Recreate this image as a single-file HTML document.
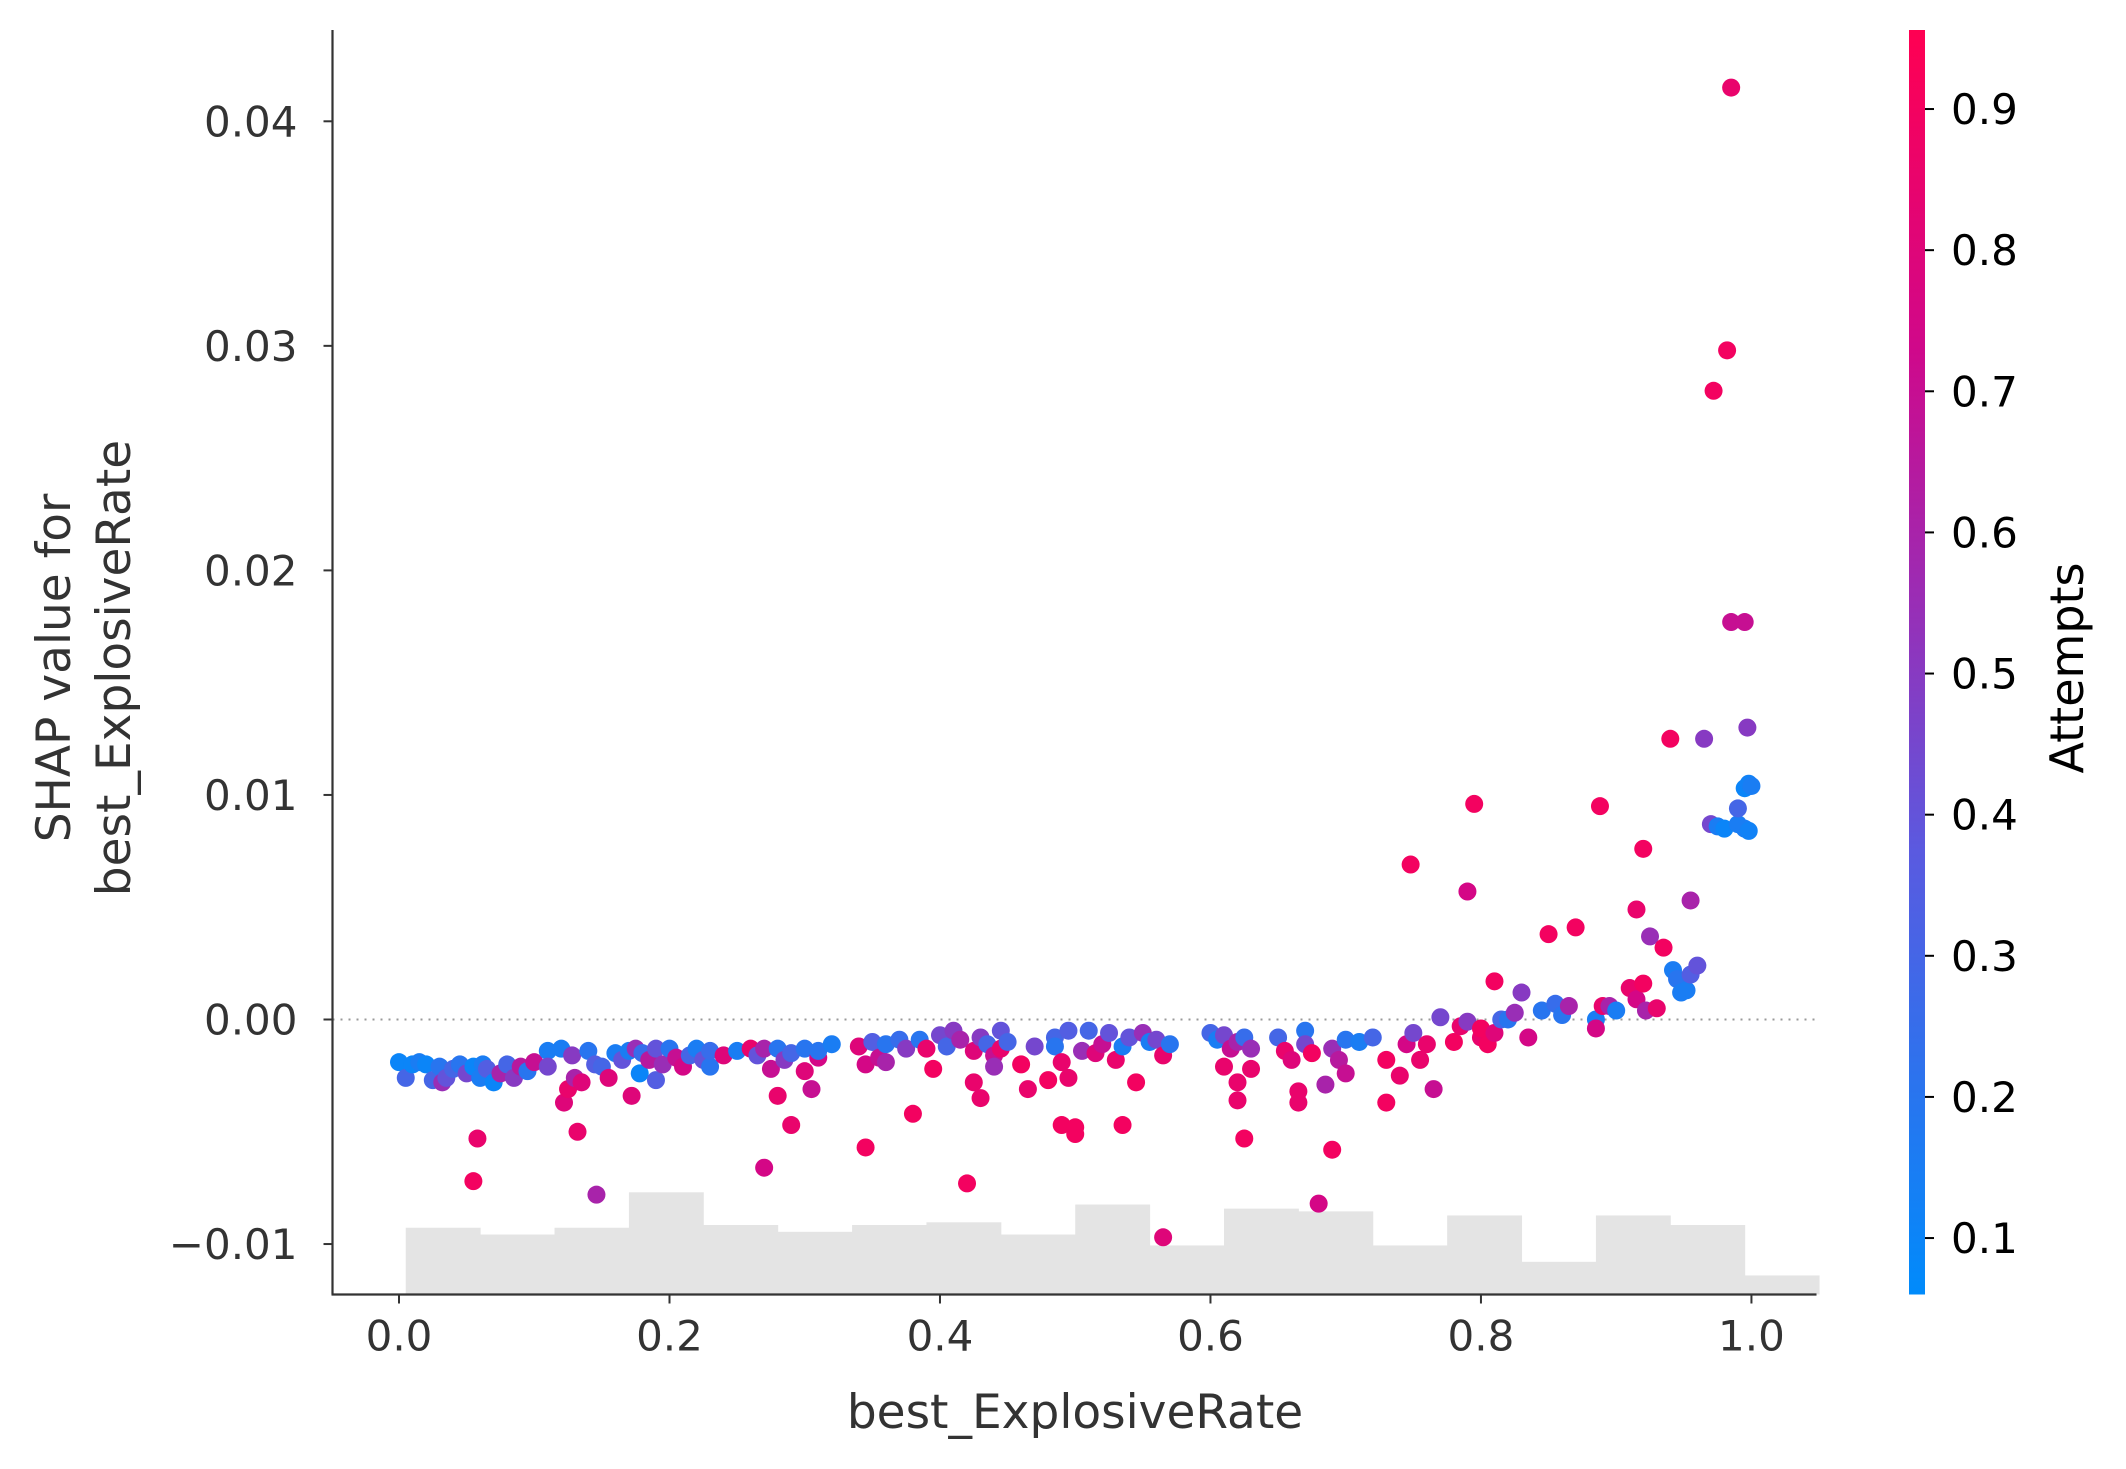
<!DOCTYPE html>
<html><head><meta charset="utf-8"><style>
html,body{margin:0;padding:0;background:#fff;}
svg{display:block;font-family:"DejaVu Sans","Liberation Sans",sans-serif;}
</style></head><body>
<svg id="chart" width="2126" height="1469" viewBox="0 0 2126 1469" xmlns="http://www.w3.org/2000/svg">
<defs>
<linearGradient id="cbgrad" x1="0" y1="1" x2="0" y2="0">
<stop offset="0" stop-color="#008bfb"/>
<stop offset="0.35" stop-color="#5a5ae0"/>
<stop offset="0.55" stop-color="#9a2db5"/>
<stop offset="0.75" stop-color="#d0088a"/>
<stop offset="1" stop-color="#ff0052"/>
</linearGradient>
</defs>
<g id="hist"></g>
<line id="zeroline" stroke="#999" stroke-width="2" stroke-dasharray="2,6"/>
<g id="pts"></g>
<g id="axes"></g>
<rect x="1909" y="30" width="16" height="1264.5" fill="url(#cbgrad)"/>
<g id="cbticks"></g>
<text x="0" y="0" transform="translate(2083,668) rotate(-90)" text-anchor="middle" font-size="46" fill="#000">Attempts</text>
<text x="1075" y="1428" text-anchor="middle" font-size="47" fill="#333">best_ExplosiveRate</text>
<text transform="translate(70,668) rotate(-90)" text-anchor="middle" font-size="47" fill="#333"><tspan x="0" y="0">SHAP value for</tspan><tspan x="0" y="60">best_ExplosiveRate</tspan></text>
</svg>
<script>
const xTicks=[0,0.2,0.4,0.6,0.8,1.0];
const xTickLabels=["0.0","0.2","0.4","0.6","0.8","1.0"];
const yTicks=[-0.01,0,0.01,0.02,0.03,0.04];
const yTickLabels=["\u22120.01","0.00","0.01","0.02","0.03","0.04"];
const cbTicks=[0.1,0.2,0.3,0.4,0.5,0.6,0.7,0.8,0.9];
const cbTickLabels=["0.1","0.2","0.3","0.4","0.5","0.6","0.7","0.8","0.9"];
const histStart=0.005;
const histBinWidth=0.055;
const histCounts=[49,44,49,75,51,46,51,53,44,66,36,63,61,36,58,24,58,51,14];
const featureX=[0.00,0.005,0.01,0.015,0.02,0.025,0.03,0.032,0.035,0.04,0.045,0.05,0.055,0.06,0.062,0.065,0.07,0.075,0.08,0.085,0.09,0.095,0.10,0.055,0.058,
0.11,0.11,0.12,0.122,0.125,0.128,0.13,0.132,0.135,0.14,0.145,0.146,0.15,0.155,0.16,0.165,0.17,0.172,0.175,0.178,0.18,0.185,0.19,0.19,0.195,0.20,0.205,0.21,
0.215,0.22,0.225,0.23,0.23,0.24,0.25,0.26,0.265,0.27,0.27,0.275,0.28,0.28,0.285,0.29,0.29,0.30,0.30,0.305,0.31,0.31,0.32,
0.34,0.345,0.345,0.35,0.355,0.36,0.36,0.37,0.375,0.38,0.385,0.39,0.395,0.40,0.405,0.41,0.415,0.42,0.425,0.425,0.43,0.43,0.435,0.44,0.445,0.445,0.45,0.44,
0.46,0.465,0.47,0.48,0.485,0.485,0.49,0.49,0.495,0.495,0.50,0.50,0.505,0.51,0.515,0.52,0.525,0.53,0.535,0.535,0.54,0.545,0.55,0.555,0.56,0.565,0.565,0.57,
0.60,0.605,0.61,0.61,0.615,0.62,0.62,0.62,0.625,0.625,0.63,0.63,0.65,0.655,0.66,0.665,0.665,0.67,0.67,0.675,0.68,0.685,0.69,0.695,0.69,0.70,0.70,0.71,0.72,
0.73,0.73,0.74,0.745,0.748,0.75,0.755,0.76,0.765,0.77,0.78,0.785,0.79,0.79,0.795,0.80,0.80,0.805,0.81,0.81,0.815,0.82,0.825,0.83,0.835,
0.845,0.85,0.855,0.86,0.865,0.87,0.885,0.885,0.888,0.89,0.895,0.90,0.91,0.915,0.915,0.92,0.92,0.922,0.925,0.93,0.935,0.94,0.942,0.945,0.948,0.952,0.955,0.955,0.96,0.965,0.97,0.972,0.975,0.98,0.982,0.985,0.985,0.99,0.99,0.995,0.995,0.995,0.997,0.998,1.0,0.998];
const shapValues=[-0.0019,-0.0026,-0.0020,-0.0019,-0.0020,-0.0027,-0.0021,-0.0028,-0.0026,-0.0022,-0.0020,-0.0024,-0.0021,-0.0026,-0.0020,-0.0022,-0.0028,-0.0024,-0.0020,-0.0026,-0.0021,-0.0023,-0.0019,-0.0072,-0.0053,
-0.0014,-0.0021,-0.0013,-0.0037,-0.0031,-0.0016,-0.0026,-0.0050,-0.0028,-0.0014,-0.0020,-0.0078,-0.0021,-0.0026,-0.0015,-0.0018,-0.0014,-0.0034,-0.0013,-0.0024,-0.0015,-0.0018,-0.0013,-0.0027,-0.0020,-0.0013,-0.0017,-0.0021,
-0.0016,-0.0013,-0.0018,-0.0021,-0.0014,-0.0016,-0.0014,-0.0013,-0.0016,-0.0013,-0.0066,-0.0022,-0.0013,-0.0034,-0.0018,-0.0047,-0.0015,-0.0013,-0.0023,-0.0031,-0.0017,-0.0014,-0.0011,
-0.0012,-0.0020,-0.0057,-0.0010,-0.0017,-0.0011,-0.0019,-0.0009,-0.0013,-0.0042,-0.0009,-0.0013,-0.0022,-0.0007,-0.0012,-0.0005,-0.0009,-0.0073,-0.0014,-0.0028,-0.0035,-0.0008,-0.0011,-0.0016,-0.0005,-0.0013,-0.0010,-0.0021,
-0.0020,-0.0031,-0.0012,-0.0027,-0.0008,-0.0012,-0.0047,-0.0019,-0.0005,-0.0026,-0.0048,-0.0051,-0.0014,-0.0005,-0.0015,-0.0011,-0.0006,-0.0018,-0.0047,-0.0012,-0.0008,-0.0028,-0.0006,-0.0010,-0.0009,-0.0016,-0.0097,-0.0011,
-0.0006,-0.0009,-0.0021,-0.0007,-0.0013,-0.0010,-0.0036,-0.0028,-0.0053,-0.0008,-0.0022,-0.0013,-0.0008,-0.0014,-0.0018,-0.0037,-0.0032,-0.0005,-0.0011,-0.0015,-0.0082,-0.0029,-0.0013,-0.0018,-0.0058,-0.0009,-0.0024,-0.0010,-0.0008,
-0.0018,-0.0037,-0.0025,-0.0011,0.0069,-0.0006,-0.0018,-0.0011,-0.0031,0.0001,-0.0010,-0.0003,0.0057,-0.0001,0.0096,-0.0008,-0.0004,-0.0011,0.0017,-0.0006,0.0000,0.0000,0.0003,0.0012,-0.0008,
0.0004,0.0038,0.0007,0.0002,0.0006,0.0041,0.0000,-0.0004,0.0095,0.0006,0.0006,0.0004,0.0014,0.0009,0.0049,0.0016,0.0076,0.0004,0.0037,0.0005,0.0032,0.0125,0.0022,0.0018,0.0012,0.0013,0.0053,0.0020,0.0024,0.0125,0.0087,0.0280,0.0086,0.0085,0.0298,0.0415,0.0177,0.0087,0.0094,0.0177,0.0085,0.0103,0.0130,0.0105,0.0104,0.0084];
const attemptValues=[0.1,0.3,0.1,0.15,0.1,0.3,0.2,0.55,0.4,0.3,0.2,0.45,0.1,0.15,0.15,0.35,0.1,0.6,0.3,0.5,0.65,0.2,0.7,0.9,0.85,
0.15,0.45,0.15,0.8,0.85,0.5,0.6,0.85,0.8,0.2,0.35,0.6,0.3,0.8,0.15,0.4,0.15,0.8,0.55,0.1,0.25,0.65,0.4,0.35,0.55,0.2,0.7,0.75,
0.3,0.15,0.4,0.2,0.25,0.8,0.15,0.85,0.4,0.6,0.75,0.7,0.2,0.85,0.5,0.85,0.3,0.2,0.8,0.7,0.75,0.2,0.15,
0.8,0.75,0.9,0.35,0.7,0.2,0.6,0.25,0.5,0.9,0.2,0.85,0.9,0.45,0.3,0.5,0.6,0.9,0.8,0.85,0.85,0.5,0.3,0.7,0.4,0.85,0.3,0.55,
0.9,0.85,0.45,0.9,0.3,0.2,0.9,0.85,0.35,0.85,0.9,0.9,0.55,0.3,0.8,0.7,0.4,0.85,0.9,0.15,0.4,0.9,0.55,0.15,0.45,0.85,0.8,0.2,
0.3,0.15,0.85,0.45,0.7,0.6,0.85,0.85,0.9,0.25,0.85,0.55,0.3,0.85,0.8,0.85,0.85,0.2,0.45,0.9,0.75,0.6,0.55,0.65,0.9,0.2,0.7,0.15,0.3,
0.9,0.9,0.85,0.75,0.9,0.45,0.85,0.85,0.7,0.45,0.9,0.85,0.75,0.5,0.9,0.85,0.9,0.9,0.9,0.8,0.3,0.2,0.55,0.5,0.75,
0.2,0.9,0.25,0.2,0.6,0.9,0.15,0.75,0.9,0.85,0.6,0.15,0.85,0.75,0.85,0.9,0.9,0.6,0.55,0.85,0.9,0.9,0.15,0.2,0.15,0.15,0.6,0.35,0.4,0.5,0.45,0.9,0.15,0.1,0.9,0.85,0.7,0.15,0.3,0.7,0.15,0.1,0.5,0.12,0.15,0.12];

const NS="http://www.w3.org/2000/svg";
const PL=332.5,PR=1816.5,PT=30,PB=1294.5;
const XMIN=-0.04917,XMAX=1.0481,YMIN=-0.012247,YMAX=0.044066;
const CBMIN=0.06,CBMAX=0.956;
function sx(v){return PL+(v-XMIN)/(XMAX-XMIN)*(PR-PL);}
function sy(v){return PB-(v-YMIN)/(YMAX-YMIN)*(PB-PT);}
function cy(v){return PB-(v-CBMIN)/(CBMAX-CBMIN)*(PB-PT);}
const histPxPerCount=1.3628;
const stops=[[0,[0,139,251]],[0.35,[90,90,224]],[0.55,[154,45,181]],[0.75,[208,8,138]],[1,[255,0,82]]];
function color(a){let t=Math.max(0,Math.min(1,(a-CBMIN)/(CBMAX-CBMIN)));
for(let i=1;i<stops.length;i++){if(t<=stops[i][0]){const f=(t-stops[i-1][0])/(stops[i][0]-stops[i-1][0]);const c0=stops[i-1][1],c1=stops[i][1];
return "rgb("+c0.map((c,k)=>Math.round(c+(c1[k]-c)*f)).join(",")+")";}}return "rgb(255,0,82)";}
function mk(tag,attrs,parent){const e=document.createElementNS(NS,tag);for(const k in attrs)e.setAttribute(k,attrs[k]);parent.appendChild(e);return e;}

const hist=document.getElementById('hist');
histCounts.forEach((c,i)=>{const x0=sx(histStart+i*histBinWidth),x1=sx(histStart+(i+1)*histBinWidth);const h=c*histPxPerCount;
const r=mk('rect',{x:x0,y:PB-h,width:x1-x0+0.5,height:h,fill:'#e4e4e4'},hist);

});

const zl=document.getElementById('zeroline');
zl.setAttribute('x1',PL);zl.setAttribute('x2',PR);zl.setAttribute('y1',sy(0));zl.setAttribute('y2',sy(0));

const pts=document.getElementById('pts');
featureX.forEach((x,i)=>{const c=mk('circle',{cx:sx(x),cy:sy(shapValues[i]),r:9,fill:color(attemptValues[i])},pts);

});

const ax=document.getElementById('axes');
const ls=mk('line',{x1:PL,y1:PT,x2:PL,y2:PB,stroke:'#333',"stroke-width":2.2},ax);


const bs=mk('line',{x1:PL-1,y1:PB,x2:PR,y2:PB,stroke:'#333',"stroke-width":2.2},ax);


xTicks.forEach((v,i)=>{const x=sx(v);mk('line',{x1:x,y1:PB,x2:x,y2:PB+9,stroke:'#333',"stroke-width":2},ax);
const t=mk('text',{x:x,y:PB+56,"text-anchor":"middle","font-size":"42",fill:"#333"},ax);t.textContent=xTickLabels[i];

});
yTicks.forEach((v,i)=>{const y=sy(v);mk('line',{x1:PL-9,y1:y,x2:PL,y2:y,stroke:'#333',"stroke-width":2},ax);
const t=mk('text',{x:PL-35,y:y+15,"text-anchor":"end","font-size":"42",fill:"#333"},ax);t.textContent=yTickLabels[i];

});
const cb=document.getElementById('cbticks');
cbTicks.forEach((v,i)=>{const y=cy(v);mk('line',{x1:1925,y1:y,x2:1934,y2:y,stroke:'#000',"stroke-width":2},cb);
const t=mk('text',{x:1951,y:y+15,"font-size":"42",fill:"#000"},cb);t.textContent=cbTickLabels[i];

});
</script>
</body></html>
